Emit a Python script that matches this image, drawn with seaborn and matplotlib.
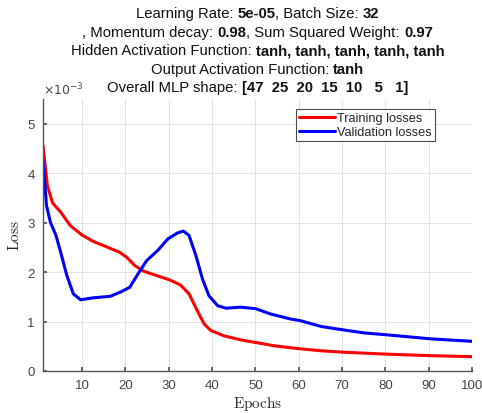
import numpy as np
import pandas as pd
import matplotlib
matplotlib.use("Agg")
import matplotlib.pyplot as plt
import seaborn as sns

# ---- data (loss values in units of 1e-3) ----
train_epochs = [1, 2, 3.2, 5.1, 7.3, 10, 12.6, 15.7, 18.7, 20.3, 22.2, 24.2, 27.2, 30.3, 32.7, 34.7,
                36.6, 38.2, 39.7, 42.8, 46.6, 50.5, 54.3, 58.2, 60.3, 65, 70.4, 80.5, 90.5, 100]
train_loss = [4.56, 3.75, 3.40, 3.21, 2.94, 2.75, 2.62, 2.51, 2.40, 2.30, 2.13, 2.02, 1.93, 1.84, 1.74,
              1.56, 1.22, 0.95, 0.82, 0.71, 0.63, 0.57, 0.51, 0.47, 0.45, 0.41, 0.38, 0.34, 0.31, 0.29]
val_epochs = [1, 1.8, 2.7, 4.0, 5.3, 6.5, 8.0, 9.7, 12.6, 16.5, 18.7, 21, 22.9, 24.9, 27.5, 29.8, 32,
              33.4, 34.7, 36.3, 37.8, 39.3, 41.3, 43.2, 46.6, 50.1, 53.6, 58.2, 60.3, 65.2, 70.4, 75.1,
              80.5, 90.5, 100]
val_loss = [4.26, 3.35, 3.01, 2.74, 2.33, 1.93, 1.56, 1.44, 1.48, 1.51, 1.59, 1.69, 1.96, 2.23, 2.44,
            2.67, 2.79, 2.83, 2.74, 2.33, 1.86, 1.52, 1.32, 1.27, 1.29, 1.26, 1.15, 1.05, 1.02, 0.90,
            0.83, 0.77, 0.73, 0.65, 0.60]
series_names = ["Training losses", "Validation losses"]
series_colors = ["#ff0000", "#0000ff"]
xticks = [10, 20, 30, 40, 50, 60, 70, 80, 90, 100]
yticks = [0, 1, 2, 3, 4, 5]

title_lines = [
    [("Learning Rate: ", False), ("5e-05", True), (", Batch Size: ", False), ("32", True)],
    [(", Momentum decay: ", False), ("0.98", True), (", Sum Squared Weight: ", False), ("0.97", True)],
    [("Hidden Activation Function: ", False), ("tanh, tanh, tanh, tanh, tanh", True)],
    [("Output Activation Function: ", False), ("tanh", True)],
    [("Overall MLP shape: ", False), ("[47  25  20  15  10   5   1]", True)],
]

sns.set_theme(style="white")
plt.rcParams["font.family"] = ["Liberation Sans", "DejaVu Sans"]
plt.rcParams["mathtext.fontset"] = "cm"

df = pd.concat([
    pd.DataFrame({"Epoch": train_epochs, "Loss": train_loss, "Series": series_names[0]}),
    pd.DataFrame({"Epoch": val_epochs, "Loss": val_loss, "Series": series_names[1]}),
])

fig = plt.figure(figsize=(4.82, 4.14), dpi=100)
ax = fig.add_axes([43 / 482, 42 / 414, 429 / 482, 272 / 414])
sns.lineplot(data=df, x="Epoch", y="Loss", hue="Series", palette=series_colors, linewidth=2.2,
             ax=ax, sort=False)
for ln in ax.get_lines():
    ln.set_solid_joinstyle("round")

ax.set_xlim(1, 100)
ax.set_ylim(0, 5.5)
ax.set_xticks(xticks)
ax.set_yticks(yticks)
ax.grid(True, color="#e3e3e3", linewidth=0.7)
ax.set_axisbelow(True)
for s in ["top", "right"]:
    ax.spines[s].set_visible(False)
for s in ["left", "bottom"]:
    ax.spines[s].set_color("#555555")
    ax.spines[s].set_linewidth(1.0)
ax.tick_params(axis="both", direction="in", length=3, color="#555555", labelsize=9.5,
               labelcolor="#454545", pad=6, bottom=True, left=True)
ax.set_xlabel(r"$\mathrm{Epochs}$", fontsize=11, color="#262626", labelpad=2)
ax.set_ylabel(r"$\mathrm{Loss}$", fontsize=11, color="#262626", labelpad=4)
ax.text(0.0, 1.005, r"$\times10^{-3}$", transform=ax.transAxes, fontsize=9, color="#454545",
        ha="left", va="bottom", math_fontfamily="dejavusans")

leg = ax.legend(loc="upper right", bbox_to_anchor=(0.914, 0.963), fontsize=9.2, frameon=True,
                fancybox=False, edgecolor="#222222", handlelength=2.8, borderpad=0.25,
                labelspacing=0.15, handletextpad=0.2, borderaxespad=0.0)
leg.get_frame().set_linewidth(0.8)
for h in leg.get_lines():
    h.set_linewidth(2.2)

# title with mixed bold segments
fig.canvas.draw()
renderer = fig.canvas.get_renderer()
cx = (43 + 472) / 2 / 482
line_y = [14, 33, 51, 70, 88]
for parts, yp in zip(title_lines, line_y):
    texts = []
    widths = []
    for s, b in parts:
        t = fig.text(0, 1 - yp / 414, s, fontsize=10.7, fontweight="bold" if b else "normal",
                     color="#111111", ha="left", va="center")
        w = t.get_window_extent(renderer).width
        texts.append(t)
        widths.append(w)
    total = sum(widths)
    x0 = cx * 482 - total / 2
    for t, w in zip(texts, widths):
        t.set_x(x0 / 482)
        x0 += w

fig.savefig("out.png", dpi=100)
